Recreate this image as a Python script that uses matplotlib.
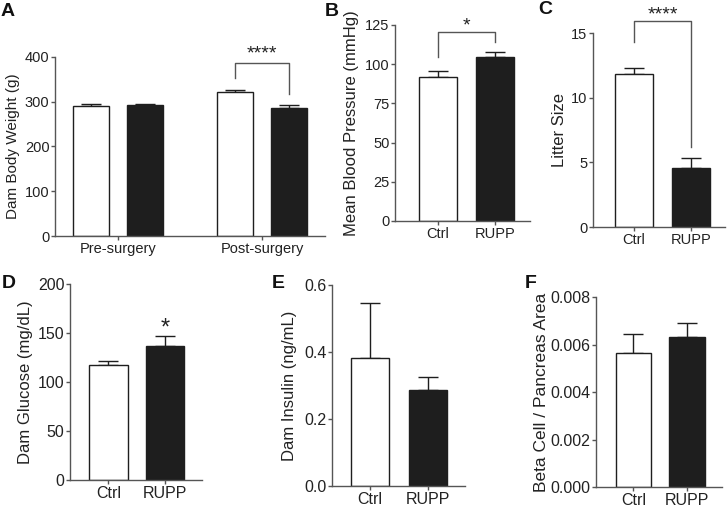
import matplotlib
matplotlib.use("Agg")
import matplotlib.pyplot as plt
import numpy as np

plt.rcParams['font.family'] = ['Liberation Sans', 'DejaVu Sans']

W, H = 727, 511

# ---- Data ----
groups_A = ["Pre-surgery", "Post-surgery"]
ctrl_A = [290, 322]
ctrl_A_err = [5, 5]
rupp_A = [292, 287]
rupp_A_err = [4, 6]

cats = ["Ctrl", "RUPP"]
bp_vals = [92, 104.5]
bp_err = [3.5, 3]
litter_vals = [11.8, 4.55]
litter_err = [0.5, 0.75]
glucose_vals = [117.3, 136.7]
glucose_err = [4.4, 10.5]
insulin_vals = [0.382, 0.287]
insulin_err = [0.164, 0.038]
beta_vals = [0.00564, 0.00632]
beta_err = [0.0008, 0.00058]

SP = '#555555'
BLK = '#1e1e1e'

fig = plt.figure(figsize=(W/100, H/100), dpi=100)

def mkax(x0, x1, ytop, ybot):
    return fig.add_axes([x0/W, 1-ybot/H, (x1-x0)/W, (ybot-ytop)/H])

def style(ax, ylim, yticks, ylabel, labx, fmt=None, fs=10.5, lfs=11):
    ax.set_ylim(*ylim)
    ax.set_yticks(yticks)
    if fmt:
        ax.set_yticklabels([fmt.format(t) for t in yticks])
    for s in ['top', 'right']:
        ax.spines[s].set_visible(False)
    for s in ['left', 'bottom']:
        ax.spines[s].set_color(SP)
        ax.spines[s].set_linewidth(1.0)
    ax.tick_params(axis='both', colors=SP, labelcolor='#222222', labelsize=fs,
                   length=3, width=1.0, pad=1)
    ax.set_ylabel(ylabel, fontsize=lfs, color='#222222', va='center')
    ax.yaxis.set_label_coords(labx, 0.5)

def bars(ax, xs, vals, errs, width, colors, capsize=7):
    ax.bar(xs, vals, width=width, color=colors, edgecolor=BLK, linewidth=1.0, zorder=2)
    ax.errorbar(xs, vals, yerr=[np.zeros(len(vals)), errs], fmt='none', ecolor=BLK,
                elinewidth=1.0, capsize=capsize, capthick=1.0, zorder=1)

def bracket(ax, x1, x2, yl, yr, ytop, text, ty):
    ax.plot([x1, x1, x2, x2], [yl, ytop, ytop, yr], color=SP, lw=1.0, clip_on=False)
    ax.text((x1+x2)/2, ty, text, ha='center', va='center', fontsize=14, color='#222222',
            clip_on=False)

xc = np.arange(len(cats))

# ---- A ----
axA = mkax(55, 325, 57, 236)
xg = np.arange(len(groups_A))
off = 0.186
bars(axA, np.concatenate([xg-off, xg+off]), ctrl_A + rupp_A, ctrl_A_err + rupp_A_err,
     0.25, ['white']*2 + [BLK]*2)
axA.set_xlim(-0.4375, 1.4375)
axA.set_xticks(xg)
axA.set_xticklabels(groups_A)
style(axA, (0, 400), [0, 100, 200, 300, 400], "Dam Body Weight (g)", -0.157)
bracket(axA, 1-off, 1+off, 353, 317, 386, "****", 406)

# ---- B ----
axB = mkax(395, 530, 25, 221)
bars(axB, xc, bp_vals, bp_err, 0.667, ['white', BLK])
axB.set_xlim(-0.754, 1.61)
axB.set_xticks(xc)
axB.set_xticklabels(cats)
style(axB, (0, 125), [0, 25, 50, 75, 100, 125], "Mean Blood Pressure (mmHg)", -0.319,
      lfs=12)
bracket(axB, 0, 1, 104.6, 114, 120.5, "*", 124.5)

# ---- C ----
axC = mkax(593, 725, 33, 227)
bars(axC, xc, litter_vals, litter_err, 0.66, ['white', BLK])
axC.set_xlim(-0.72, 1.6)
axC.set_xticks(xc)
axC.set_xticklabels(cats)
style(axC, (0, 15), [0, 5, 10, 15], "Litter Size", -0.25, lfs=12)
bracket(axC, 0, 1, 14.3, 6.2, 15.9, "****", 16.4)

# ---- D ----
axD = mkax(70, 202, 284, 480)
bars(axD, xc, glucose_vals, glucose_err, 0.68, ['white', BLK])
axD.set_xlim(-0.681, 1.655)
axD.set_xticks(xc)
axD.set_xticklabels(cats)
style(axD, (0, 200), [0, 50, 100, 150, 200], "Dam Glucose (mg/dL)", -0.34,
      fs=11.5, lfs=12)
axD.text(1, 155, "*", ha='center', va='center', fontsize=17, color='#222222')

# ---- E ----
axE = mkax(332, 465, 285, 486)
bars(axE, xc, insulin_vals, insulin_err, 0.655, ['white', BLK])
axE.set_xlim(-0.655, 1.638)
axE.set_xticks(xc)
axE.set_xticklabels(cats)
style(axE, (0, 0.6), [0.0, 0.2, 0.4, 0.6], "Dam Insulin (ng/mL)", -0.316, fmt="{:.1f}",
      fs=11.5, lfs=12)

# ---- F ----
axF = mkax(596, 722, 297, 487)
bars(axF, xc, beta_vals, beta_err, 0.66, ['white', BLK])
axF.set_xlim(-0.70, 1.654)
axF.set_xticks(xc)
axF.set_xticklabels(cats)
style(axF, (0, 0.008), [0, 0.002, 0.004, 0.006, 0.008], "Beta Cell / Pancreas Area",
      -0.43, fmt="{:.3f}", fs=11.5, lfs=12.5)

# ---- panel letters ----
for lab, x, y in [("A", 1, 12), ("B", 325, 12), ("C", 538, 10),
                  ("D", 2, 284), ("E", 272, 284), ("F", 525, 283)]:
    fig.text(x/W, 1-y/H, lab, fontsize=14, fontweight='bold', ha='left', va='center',
             color='#111111')

fig.savefig("out.png", dpi=100)
